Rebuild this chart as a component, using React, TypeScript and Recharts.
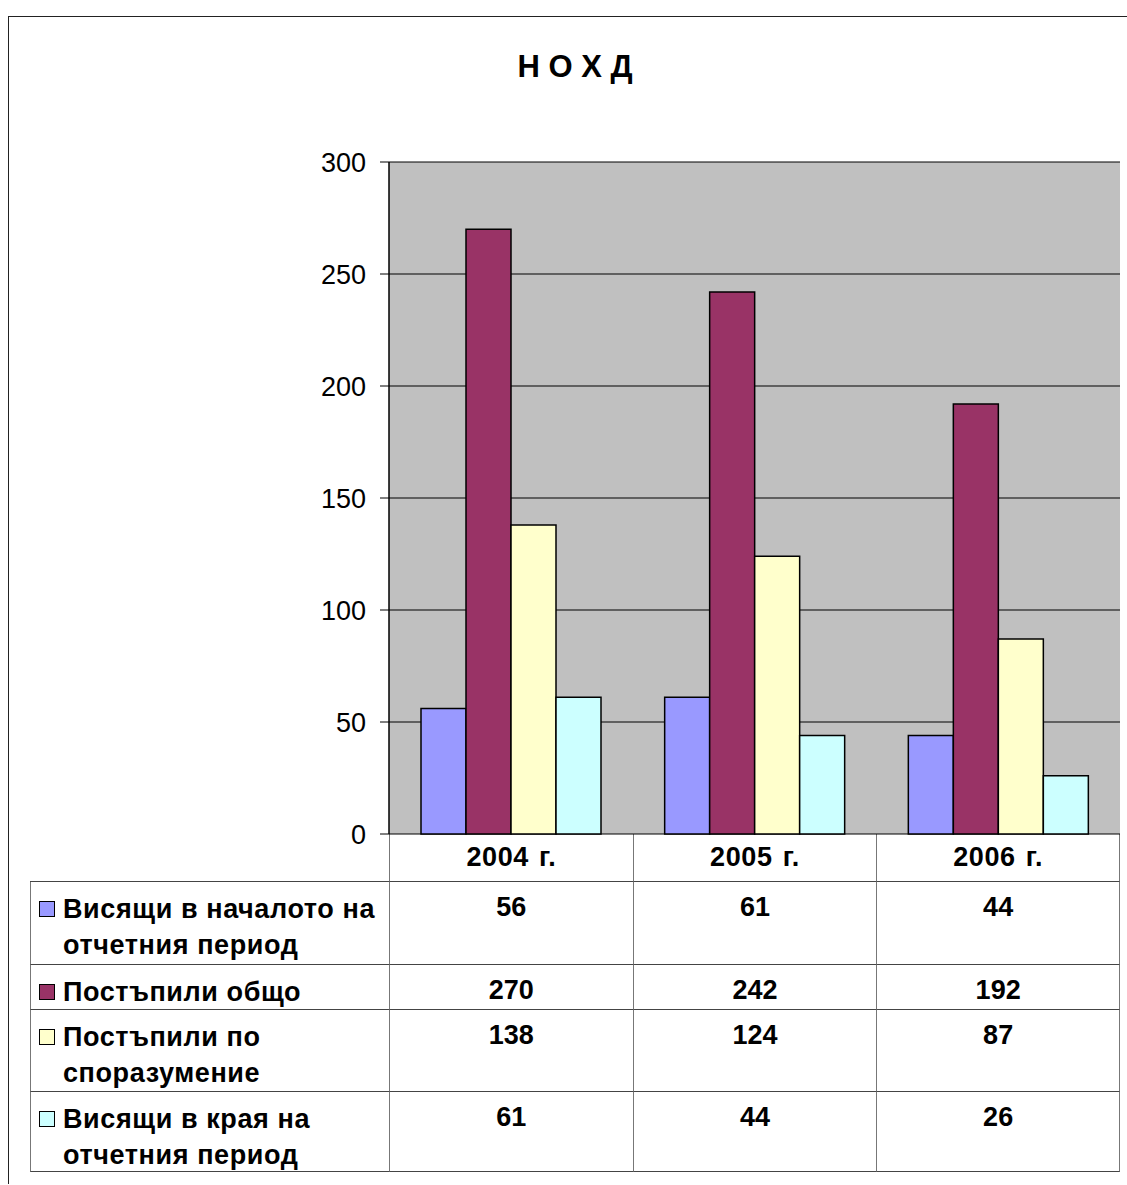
import { BarChart, Bar, XAxis, YAxis, CartesianGrid } from 'recharts';

const years = ['2004 г.', '2005 г.', '2006 г.'];
const pendingStart = [56, 61, 44];
const receivedTotal = [270, 242, 192];
const receivedAgreement = [138, 124, 87];
const pendingEnd = [61, 44, 26];
const yTicks = [0, 50, 100, 150, 200, 250, 300];

const series = [
  { key: 'pendingStart', name: 'Висящи в началото на отчетния период', values: pendingStart, color: '#9999FF', rowH: 83 },
  { key: 'receivedTotal', name: 'Постъпили общо', values: receivedTotal, color: '#993366', rowH: 45 },
  { key: 'receivedAgreement', name: 'Постъпили по споразумение', values: receivedAgreement, color: '#FFFFCC', rowH: 82 },
  { key: 'pendingEnd', name: 'Висящи в края на отчетния период', values: pendingEnd, color: '#CCFFFF', rowH: 80 },
];

const data = years.map((year, i) => {
  const row: Record<string, string | number> = { year };
  series.forEach((s) => { row[s.key] = s.values[i]; });
  return row;
});

const FONT = '"Liberation Sans", Arial, sans-serif';
const LINE = '#444';

// geometry inside the frame (chart plot area: x 380..1111, y 145..817)
const PLOT_LEFT = 380;
const PLOT_RIGHT = 1111;
const PLOT_TOP = 145;
const PLOT_BOTTOM = 817;
const TABLE_LEFT = 21;
const colW = (PLOT_RIGHT - PLOT_LEFT) / years.length;

export default function App() {
  const rowHeights = [48, ...series.map((s) => s.rowH)];
  return (
    <div
      style={{
        position: 'absolute', left: 8, top: 16, width: 1118, height: 1167,
        borderLeft: '1px solid #222', borderTop: '1px solid #222',
        background: '#fff', fontFamily: FONT, overflow: 'hidden',
      }}
    >
      <div
        style={{
          position: 'absolute', left: 566, top: 50, transform: 'translate(-50%, -50%)',
          fontWeight: 'bold', fontSize: 31, whiteSpace: 'pre', color: '#000',
        }}
      >
        Н О Х Д
      </div>

      {/* data table under the plot */}
      <div
        style={{
          position: 'absolute', left: TABLE_LEFT, top: PLOT_BOTTOM,
          display: 'grid',
          gridTemplateColumns: `${PLOT_LEFT - TABLE_LEFT}px repeat(${years.length}, ${colW}px)`,
          gridTemplateRows: rowHeights.map((h) => `${h}px`).join(' '),
          fontWeight: 'bold', fontSize: 27, color: '#000',
        }}
      >
        <div style={{ borderBottom: `1px solid ${LINE}` }} />
        {years.map((y, i) => (
          <div
            key={y}
            style={{
              boxSizing: 'border-box', display: 'flex', alignItems: 'center', justifyContent: 'center',
              borderLeft: `1.5px solid #777`, borderBottom: `1px solid ${LINE}`,
              borderRight: i === years.length - 1 ? '1.5px solid #777' : undefined,
              letterSpacing: 0.6, wordSpacing: 2,
            }}
          >
            {y}
          </div>
        ))}
        {series.map((s) => [
          <div
            key={s.key + '-label'}
            style={{
              boxSizing: 'border-box', display: 'flex', alignItems: 'flex-start',
              borderLeft: `1.5px solid #777`, borderBottom: `1px solid ${LINE}`,
              padding: '9px 0 0 8px', lineHeight: '36px',
            }}
          >
            <span
              style={{
                flex: '0 0 auto', width: 14, height: 14, marginTop: 10, marginRight: 8,
                background: s.color, border: '1.5px solid #000',
              }}
            />
            <span style={{ width: 330, letterSpacing: 0.6 }}>{s.name}</span>
          </div>,
          ...s.values.map((v, i) => (
            <div
              key={s.key + '-' + i}
              style={{
                boxSizing: 'border-box', textAlign: 'center', lineHeight: '36px', paddingTop: 7,
                borderLeft: `1.5px solid #777`, borderBottom: `1px solid ${LINE}`,
                borderRight: i === years.length - 1 ? '1.5px solid #777' : undefined,
              }}
            >
              {v}
            </div>
          )),
        ])}
      </div>

      <div style={{ position: 'absolute', left: 0, top: 0 }}>
        <BarChart
          width={1118}
          height={PLOT_BOTTOM + 30}
          data={data}
          margin={{ top: PLOT_TOP, right: 1118 - PLOT_RIGHT, bottom: 30, left: 0 }}
          barSize={45}
          barGap={0}
        >
          <CartesianGrid vertical={false} stroke="#000" fill="#C0C0C0" fillOpacity={1} />
          <XAxis dataKey="year" height={0} tick={false} tickLine={false} axisLine={{ stroke: '#000', strokeWidth: 1.5 }} />
          <XAxis xAxisId="top" dataKey="year" orientation="top" height={0} tick={false} tickLine={false} axisLine={{ stroke: '#808080', strokeWidth: 2 }} />
          <YAxis
            domain={[0, 300]}
            ticks={yTicks}
            width={PLOT_LEFT}
            tickSize={9}
            tickMargin={14}
            interval={0}
            axisLine={{ stroke: '#000', strokeWidth: 1.5 }}
            tickLine={{ stroke: '#000' }}
            tick={{ fill: '#000', fontSize: 27, fontFamily: FONT }}
          />
          <YAxis yAxisId="right" orientation="right" width={0} tick={false} tickLine={false} axisLine={{ stroke: '#808080', strokeWidth: 2 }} />
          {series.map((s) => (
            <Bar
              key={s.key}
              dataKey={s.key}
              name={s.name}
              fill={s.color}
              stroke="#000"
              strokeWidth={1.5}
              isAnimationActive={false}
            />
          ))}
        </BarChart>
      </div>
    </div>
  );
}
